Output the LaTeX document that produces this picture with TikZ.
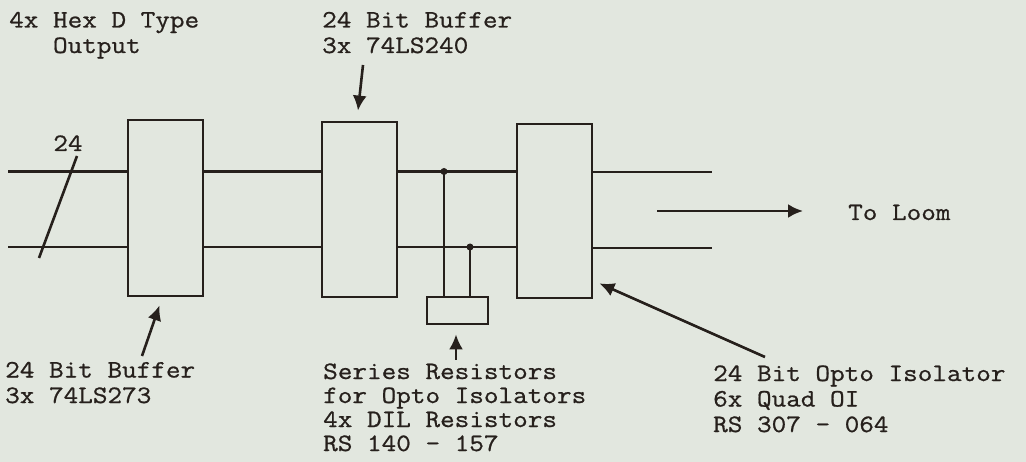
\documentclass[tikz,border=0pt]{standalone}
\usepackage{fontspec}
\newfontfamily\typewriter{Latin Modern Mono}[FakeStretch=1.135, FakeBold=0.8]
\usetikzlibrary{calc,arrows.meta}
\definecolor{paper}{RGB}{226,231,223}
\definecolor{ink}{RGB}{38,32,28}
\tikzset{
  block/.style={draw=ink, line width=2.8pt, minimum width=75pt, inner sep=0pt},
  wire/.style={draw=ink, line width=2.8pt},
  pointer/.style={draw=ink, line width=2.6pt, -{Latex[length=15pt,width=14pt]}},
  note/.style={font=\typewriter\fontsize{25}{25.5}\selectfont, text=ink, align=left, inner sep=0pt, anchor=base west},
}

\begin{document}
\begin{tikzpicture}[x=1pt,y=-1pt]
    % Paper
    \fill[paper] (0,0) rectangle (1026,462);
    \useasboundingbox (0,0) rectangle (1026,462);
    % Blocks
    \node[block, minimum height=176pt] (buf) at (165.5,208) {};
    \node[block, minimum height=175pt] (inv) at (359.5,209.5) {};
    \node[block, minimum height=174pt] (opto) at (554.5,211) {};
    \node[block, minimum width=61pt, minimum height=27pt] (res) at (457.5,310.5) {};
    % Bus lines
    \coordinate (topin) at (8,171.5);
    \coordinate (botin) at (8,247);
    \coordinate (topout) at (712,172);
    \coordinate (botout) at (712,248);
    \draw[wire] (topin) -- (topin -| buf.west);
    \draw[wire] (botin) -- (botin -| buf.west);
    \draw[wire] (buf.east |- topin) -- (inv.west |- topin);
    \draw[wire] (buf.east |- botin) -- (inv.west |- botin);
    \draw[wire] (inv.east |- topin) -- (opto.west |- topin);
    \draw[wire] (inv.east |- botin) -- (opto.west |- botin);
    \draw[wire] (opto.east |- topout) -- (topout);
    \draw[wire] (opto.east |- botout) -- (botout);
    % Taps to the resistors
    \coordinate (tapA) at (444,171.5);
    \coordinate (tapB) at (470,247);
    \draw[wire] (tapA) -- (tapA |- res.north);
    \draw[wire] (tapB) -- (tapB |- res.north);
    \fill[ink] (tapA) circle (3.5pt);
    \fill[ink] (tapB) circle (3.5pt);
    % Bus width mark
    \coordinate (slashA) at (77,156);
    \coordinate (slashB) at (39,258);
    \draw[wire, line width=2.6pt] (slashA) -- (slashB);
    \node[note, anchor=base] (width) at (68,151) {24};
    % Labels (base = last line)
    \node[note] (outlbl) at (9,53) {4x Hex D Type\\\hphantom{4x }Output};
    \node[note] (invlbl) at (322,53) {24 Bit Buffer\\3x 74LS240};
    \node[note] (buflbl) at (5,403) {24 Bit Buffer\\3x 74LS273};
    \node[note, font=\typewriter\fontsize{25}{24}\selectfont] (reslbl) at (323,451)
      {Series Resistors\\for Opto Isolators\\4x DIL Resistors\\RS 140 - 157};
    \node[note] (optolbl) at (713,432) {24 Bit Opto Isolator\\6x Quad OI\\RS 307 - 064};
    \node[note] (loom) at (848,220) {To Loom};
    % Pointers
    \coordinate (invtail) at (363,65);
    \coordinate (buftail) at (142,356);
    \coordinate (restail) at (456,360);
    \coordinate (optotail) at (765,357);
    \coordinate (loomtail) at (657,211);
    \draw[pointer] (invtail) -- ($(inv.north)+(-1.5,-10)$);
    \draw[pointer] (buftail) -- ($(buf.south)+(-6,8)$);
    \draw[pointer] (restail) -- ($(res.south)+(-1.5,9)$);
    \draw[pointer] (optotail) -- ($(opto.south east)+(6,-16)$);
    \draw[pointer] (loomtail) -- ($(loom.west |- loomtail)+(-45,0)$);
\end{tikzpicture}
\end{document}
